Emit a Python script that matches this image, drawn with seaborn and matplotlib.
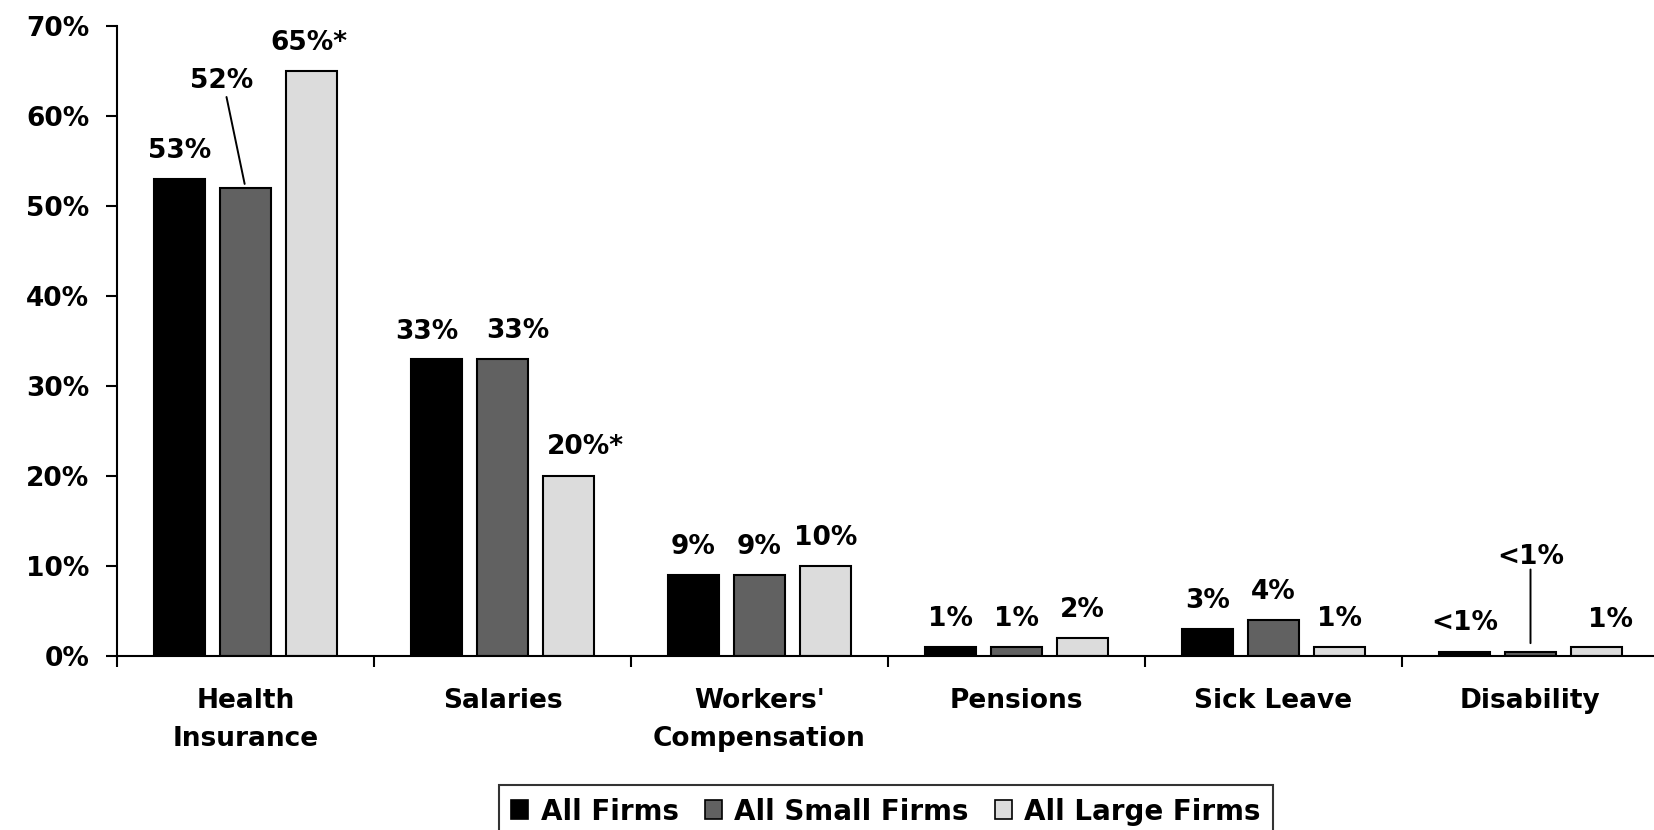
import matplotlib
matplotlib.use("Agg")
import matplotlib.pyplot as plt
import seaborn as sns
import pandas as pd
from matplotlib.patches import Patch
from matplotlib.ticker import FixedLocator, FuncFormatter

# data
categories = ["Health\nInsurance", "Salaries", "Workers'\nCompensation",
              "Pensions", "Sick Leave", "Disability"]
series = ["All Firms", "All Small Firms", "All Large Firms"]
all_firms = [53, 33, 9, 1, 3, 0.5]
small_firms = [52, 33, 9, 1, 4, 0.5]
large_firms = [65, 20, 10, 2, 1, 1]
all_labels = ["53%", "33%", "9%", "1%", "3%", "<1%"]
small_labels = ["52%", "33%", "9%", "1%", "4%", "<1%"]
large_labels = ["65%*", "20%*", "10%", "2%", "1%", "1%"]

colors = ["#000000", "#616161", "#dcdcdc"]

rows = []
for name, vals in zip(series, [all_firms, small_firms, large_firms]):
    for cat, v in zip(categories, vals):
        rows.append({"category": cat, "series": name, "value": v})
df = pd.DataFrame(rows)

sns.set_style("white")
plt.rcParams['font.family'] = ['DejaVu Sans']
plt.rcParams['font.weight'] = 'bold'
plt.rcParams['text.color'] = 'black'
plt.rcParams['xtick.color'] = 'black'
plt.rcParams['ytick.color'] = 'black'
plt.rcParams['axes.labelcolor'] = 'black'

fig = plt.figure(figsize=(16.54, 8.30), dpi=100)
ax = fig.add_axes([117 / 1654, 1 - 656 / 830, (1659 - 117) / 1654, 630 / 830])

sns.barplot(data=df, x="category", y="value", hue="series", order=categories,
            hue_order=series, palette=colors, width=0.77, gap=0.23,
            edgecolor="black", linewidth=1.5, ax=ax, legend=False)

ax.set_xlim(-0.5, 5.5)
ax.set_ylim(0, 70)
ax.set_yticks(range(0, 71, 10))
ax.yaxis.set_major_formatter(FuncFormatter(lambda v, p: f"{int(v)}%"))
ax.set_xlabel("")
ax.set_ylabel("")
ax.xaxis.set_minor_locator(FixedLocator([i - 0.5 for i in range(7)]))
ax.tick_params(axis="x", which="major", length=0, pad=23, labelsize=19)
ax.tick_params(axis="x", which="minor", length=8, width=1.5, direction="out",
               bottom=True, color="black")
ax.tick_params(axis="y", which="major", length=8, width=1.5, direction="out",
               left=True, pad=12, labelsize=19, color="black")
for lab in ax.get_xticklabels():
    lab.set_fontweight("bold")
    lab.set_linespacing(1.6)
for lab in ax.get_yticklabels():
    lab.set_fontweight("bold")

for side in ["top", "right"]:
    ax.spines[side].set_visible(False)
for side in ["left", "bottom"]:
    ax.spines[side].set_color("black")
    ax.spines[side].set_linewidth(1.5)

# label offsets in pixels (dx, dy) from the bar top centre, keyed (category, series)
offsets = {
    (0, 1): (-24, 107), (0, 2): (-3, 28),
    (1, 0): (-10, 27), (1, 1): (15, 28), (1, 2): (17, 29),
    (5, 1): (0, 94), (5, 2): (14, 27),
}
# leader lines: start offset in pixels, shrink at bar end in points
leaders = {(0, 1): ((-19, 91), 3), (5, 1): ((0, 82), 6)}

label_sets = [all_labels, small_labels, large_labels]
for s, cont in enumerate(ax.containers):
    for c, bar in enumerate(cont.patches):
        x = bar.get_x() + bar.get_width() / 2
        y = bar.get_height()
        dx, dy = offsets.get((c, s), (0, 28))
        ax.annotate(label_sets[s][c], xy=(x, y), xytext=(dx, dy),
                    textcoords="offset pixels", ha="center", va="center",
                    fontsize=19, fontweight="bold", annotation_clip=False)
        if (c, s) in leaders:
            start, sb = leaders[(c, s)]
            ax.annotate("", xy=(x, y), xytext=start, textcoords="offset pixels",
                        arrowprops=dict(arrowstyle="-", color="black", lw=1.4,
                                        shrinkA=0, shrinkB=sb),
                        annotation_clip=False)

handles = [Patch(facecolor=col, edgecolor="black", linewidth=1.2) for col in colors]
leg = fig.legend(handles, series, loc="upper center", ncol=3,
                 bbox_to_anchor=(886 / 1654, 1 - 785 / 830), frameon=True,
                 fancybox=False, fontsize=20, handlelength=0.6, handleheight=0.65,
                 handletextpad=0.45, columnspacing=0.95, borderpad=0.45,
                 borderaxespad=0)
leg.get_frame().set_edgecolor("black")
leg.get_frame().set_linewidth(1.5)
for t in leg.get_texts():
    t.set_fontweight("bold")

fig.savefig("out.png", dpi=100)
